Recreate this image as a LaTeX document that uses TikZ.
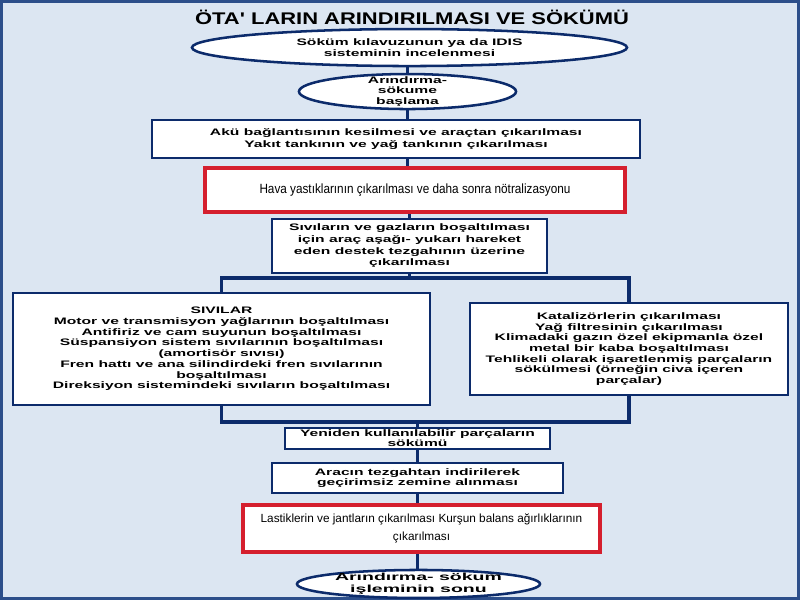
\documentclass[tikz,border=0pt]{standalone}
\usepackage{fontspec}
\setmainfont{Liberation Sans}
\newfontfamily\widesans{Liberation Sans}[FakeStretch=1.66]
\newfontfamily\widersans{Liberation Sans}[FakeStretch=1.9]
\newfontfamily\titlesans{Liberation Sans}[FakeStretch=1.3]
\newfontfamily\narrowsans{Liberation Sans}[FakeStretch=0.88]
\usetikzlibrary{shapes.geometric,positioning}
\definecolor{paper}{HTML}{DCE6F2}
\definecolor{frame}{HTML}{2C4E8A}
\definecolor{navy}{HTML}{0C2B6B}
\definecolor{alarm}{HTML}{D51F2E}

\begin{document}
\begin{tikzpicture}[x=0.025cm,y=-0.025cm,
  font=\widesans\bfseries\fontsize{6.7}{7.6}\selectfont,
  box/.style={draw=navy,line width=1.8pt,fill=white,align=center,inner sep=1pt},
  oval/.style={ellipse,draw=navy,line width=1.8pt,fill=white,align=center,inner sep=0pt},
  alert/.style={draw=alarm,line width=3pt,fill=white,align=center,inner sep=1pt},
  link/.style={draw=navy,line width=2.2pt}]
  \fill[paper] (0,0) rectangle (800,600);
  \draw[frame,line width=2.2pt] (1.5,1.5) rectangle (798.5,598.5);
  \node[font=\titlesans\bfseries\fontsize{12}{14}\selectfont] (title) at (412,17)
    {ÖTA' LARIN ARINDIRILMASI VE SÖKÜMÜ};
  \node[oval,minimum width=10.875cm,minimum height=0.925cm,inner ysep=-3pt,
    font=\widesans\bfseries\fontsize{6.7}{7.8}\selectfont] (e1) at (409.5,47.5)
    {Söküm kılavuzunun ya da IDIS\\sisteminin incelenmesi};
  \node[oval,minimum width=5.425cm,minimum height=0.875cm,inner ysep=-5pt,
    font=\widesans\bfseries\fontsize{6.7}{7.2}\selectfont] (e2) at (407.5,91.5)
    {Arındırma-\\sökume\\başlama};
  \node[box,minimum width=12.2cm,minimum height=0.95cm,
    font=\widesans\bfseries\fontsize{6.7}{8.5}\selectfont] (a) at (396,139)
    {Akü bağlantısının kesilmesi ve araçtan çıkarılması\\Yakıt tankının ve yağ tankının çıkarılması};
  \node[alert,minimum width=10.5cm,minimum height=1.1cm,
    font=\narrowsans\fontsize{9.5}{11}\selectfont] (h) at (415,190)
    {Hava yastıklarının çıkarılması ve daha sonra nötralizasyonu};
  \node[box,minimum width=6.875cm,minimum height=1.35cm,
    font=\widesans\bfseries\fontsize{6.7}{8.3}\selectfont] (s) at (409.5,246)
    {Sıvıların ve gazların boşaltılması\\için araç aşağı- yukarı hareket\\eden destek tezgahının üzerine\\çıkarılması};
  \node[box,minimum width=10.425cm,minimum height=2.8cm] (l) at (221.5,349)
    {SIVILAR\\Motor ve transmisyon yağlarının boşaltılması\\Antifiriz ve cam suyunun boşaltılması\\Süspansiyon sistem sıvılarının boşaltılması\\(amortisör sıvısı)\\Fren hattı ve ana silindirdeki fren sıvılarının\\boşaltılması\\Direksiyon sistemindeki sıvıların boşaltılması};
  \node[box,minimum width=7.95cm,minimum height=2.3cm] (r) at (629,349)
    {Katalizörlerin çıkarılması\\Yağ filtresinin çıkarılması\\Klimadaki gazın özel ekipmanla özel\\metal bir  kaba boşaltılması\\Tehlikeli olarak işaretlenmiş parçaların\\sökülmesi (örneğin civa içeren\\parçalar)};
  \node[box,minimum width=6.625cm,minimum height=0.525cm,inner ysep=-3pt,
    font=\widesans\bfseries\fontsize{6.7}{7}\selectfont] (y) at (417.5,438.5)
    {Yeniden kullanılabilir parçaların\\sökümü};
  \node[box,minimum width=7.275cm,minimum height=0.75cm] (g) at (417.5,478)
    {Aracın tezgahtan  indirilerek\\geçirimsiz zemine alınması};
  \node[alert,minimum width=8.925cm,minimum height=1.175cm,
    font=\fontsize{8.4}{12.8}\selectfont] (t) at (421.5,528.5)
    {Lastiklerin ve jantların çıkarılması Kurşun balans ağırlıklarının\\çıkarılması};
  \node[oval,minimum width=6.075cm,minimum height=0.7cm,inner ysep=-5pt,
    font=\widersans\bfseries\fontsize{7.3}{8.5}\selectfont] (z) at (418.5,584)
    {Arındırma- sökum\\işleminin sonu};
  \coordinate (split) at (409.5,278);
  \coordinate (join) at (417.5,422);
  \draw[link] (e2.north) -- (e2.north |- e1.south);
  \draw[link] (e2.south) -- (e2.south |- a.north);
  \draw[link] (e2.south |- a.south) -- (e2.south |- h.north);
  \draw[link] (s.north) -- (s.north |- h.south);
  \draw[link] (s.south) -- (split);
  \draw[link] (l.north) |- (split) -| (r.north);
  \draw[link] (l.south) |- (join) -| (r.south);
  \draw[link] (join) -- (y.north);
  \draw[link] (y.south) -- (g.north);
  \draw[link] (g.south) -- (g.south |- t.north);
  \draw[link] (g.south |- t.south) -- (g.south |- z.north);
\end{tikzpicture}
\end{document}
